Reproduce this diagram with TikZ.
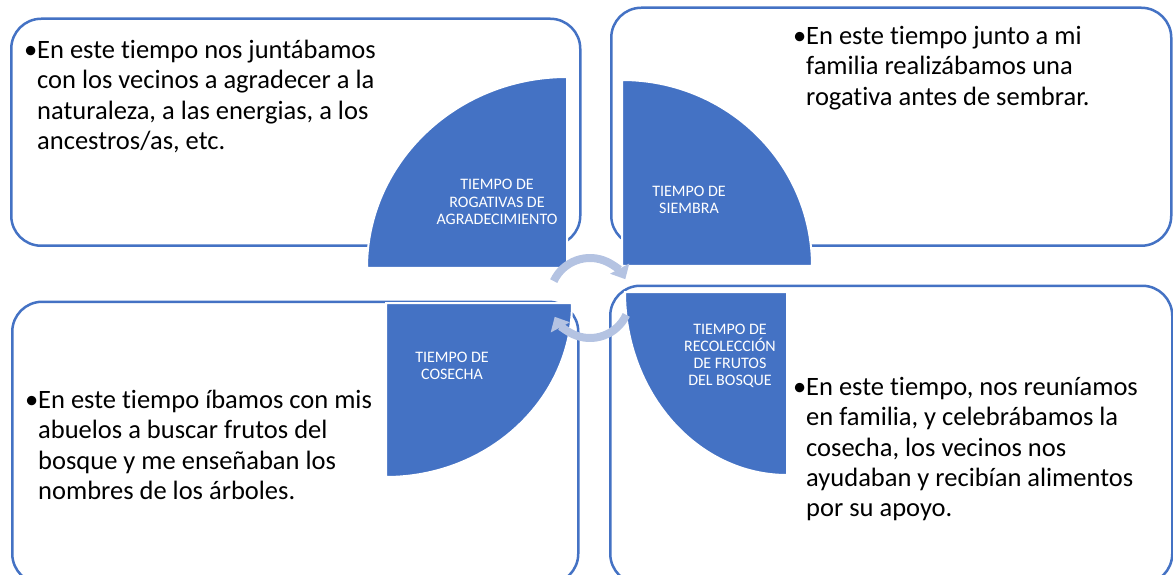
\documentclass[tikz,border=0pt]{standalone}
\usepackage{fontspec}
\setmainfont{Carlito}[Ligatures={NoCommon, NoContextual}]
\usepackage{tikz}
\usetikzlibrary{shapes, positioning}
\usetikzlibrary{arrows.meta}
\definecolor{accentblue}{RGB}{68,114,196}
\definecolor{cyclegray}{RGB}{180,195,226}

\begin{document}
\begin{tikzpicture}[x=1pt, y=1pt,
		panel/.style={draw=accentblue, line width=2.5pt, rounded corners=30pt, fill=white, inner sep=0pt, anchor=south west},
		quarter/.style={fill=accentblue, draw=white, line width=2pt},
		tag/.style={text=white, align=center, inner sep=0pt, font=\fontsize{16}{17.2}\selectfont},
		story/.style={align=left, anchor=north west, inner sep=0pt, font=\fontsize{26.5}{30.3}\selectfont},
		cyclearrow/.style={draw=cyclegray, line width=8pt, -{Triangle[width=21pt, length=12pt]}}]
	\useasboundingbox (0,0) rectangle (1173,574);
	\node[panel, minimum width=569pt, minimum height=227pt] (boxtl) at (10,327) {};
	\node[panel, minimum width=560pt, minimum height=238pt] (boxtr) at (610,327) {};
	\node[panel, minimum width=566pt, minimum height=282pt] (boxbl) at (11,-11) {};
	\node[panel, minimum width=562pt, minimum height=298pt] (boxbr) at (609,-11) {};
	\draw[quarter] (567,306) -- ++(-200,0) arc[start angle=180, end angle=90, x radius=200, y radius=191] -- cycle;
	\draw[quarter] (622,308) -- ++(0,186) arc[start angle=90, end angle=0, x radius=190, y radius=186] -- cycle;
	\draw[quarter] (386,271) -- ++(186,0) arc[start angle=0, end angle=-90, x radius=186, y radius=174] -- cycle;
	\draw[quarter] (787,282) -- ++(-162,0) arc[start angle=180, end angle=270, x radius=162, y radius=183] -- cycle;
	\node[tag] (rogativas) at (497,372) {TIEMPO DE\\ROGATIVAS DE\\AGRADECIMIENTO};
	\node[tag] (siembra) at (689,374) {TIEMPO DE\\SIEMBRA};
	\node[tag] (cosecha) at (452,208.5) {TIEMPO DE\\COSECHA};
	\node[tag] (recoleccion) at (730,218) {TIEMPO DE\\RECOLECCIÓN\\DE FRUTOS\\DEL BOSQUE};
	\node[story] (textrogativas) at (37,534) {\llap{•}En este tiempo nos juntábamos\\con los vecinos a agradecer a la\\naturaleza, a las energias, a los\\ancestros/as, etc.};
	\node[story] (textsiembra) at (806,548) {\llap{•}En este tiempo junto a mi\\familia realizábamos una\\rogativa antes de sembrar.};
	\node[story] (textcosecha) at (38,184) {\llap{•}En este tiempo íbamos con mis\\abuelos a buscar frutos del\\bosque y me enseñaban los\\nombres de los árboles.};
	\node[story] (textrecoleccion) at (806,197) {\llap{•}En este tiempo, nos reuníamos\\en familia, y celebrábamos la\\cosecha, los vecinos nos\\ayudaban y recibían alimentos\\por su apoyo.};
	\coordinate (hub) at (590,276);
	\draw[cyclearrow] ([shift={(155:40)}]hub) arc[start angle=155, end angle=28, radius=40];
	\draw[cyclearrow] ([shift={(-25:40)}]hub) arc[start angle=-25, end angle=-152, radius=40];
\end{tikzpicture}
\end{document}
